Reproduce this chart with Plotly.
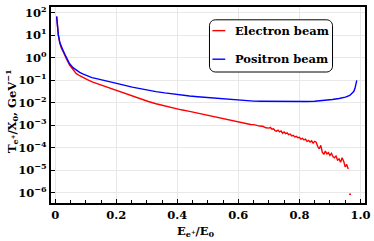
import math
import plotly.graph_objects as go

# ---------------- data ----------------
blue_x = [0.0045, 0.0065, 0.010, 0.015, 0.020, 0.026, 0.031, 0.037, 0.047, 0.058, 0.069, 0.080, 0.090,
          0.105, 0.120, 0.135, 0.150, 0.175, 0.198, 0.225, 0.252, 0.28, 0.305, 0.33, 0.359, 0.385, 0.413,
          0.44, 0.467, 0.50, 0.542, 0.57, 0.596, 0.62, 0.65, 0.675, 0.70, 0.73, 0.757, 0.78, 0.80,
          0.825, 0.85, 0.875, 0.908, 0.93, 0.951, 0.965, 0.972, 0.978, 0.982, 0.985, 0.988]
blue_y = [67.6, 24.5, 10.5, 4.57, 2.8, 2.0, 1.45, 1.0, 0.53, 0.36, 0.27, 0.22, 0.188,
          0.153, 0.13, 0.117, 0.106, 0.088, 0.076, 0.06, 0.049, 0.041, 0.035, 0.031, 0.027, 0.024, 0.0214,
          0.0196, 0.0182, 0.0168, 0.0151, 0.0139, 0.0129, 0.0123, 0.0117, 0.0115, 0.0114, 0.0112, 0.011, 0.011, 0.011,
          0.0112, 0.0116, 0.0122, 0.0138, 0.0152, 0.0175, 0.021, 0.025, 0.031, 0.042, 0.058, 0.098]

red_x = [0.0045, 0.0065, 0.010, 0.015, 0.020, 0.026, 0.031, 0.037, 0.047, 0.058, 0.069, 0.080, 0.090,
         0.105, 0.123, 0.144, 0.176, 0.198, 0.225, 0.252, 0.28, 0.305, 0.33, 0.359, 0.385, 0.413,
         0.44, 0.467, 0.488, 0.515, 0.542,
         0.55, 0.56, 0.57, 0.58, 0.59, 0.60, 0.61, 0.62, 0.63, 0.64, 0.65, 0.66, 0.67, 0.68, 0.69, 0.70,
         0.705, 0.71, 0.715, 0.72, 0.725, 0.73, 0.735, 0.74, 0.745, 0.75, 0.755, 0.76, 0.765, 0.77, 0.775,
         0.78, 0.785, 0.79, 0.795, 0.80, 0.805, 0.81, 0.815, 0.82, 0.825, 0.83, 0.835, 0.84, 0.845, 0.85,
         0.855, 0.86, 0.865, 0.87, 0.875, 0.88, 0.885, 0.89, 0.895, 0.90, 0.905, 0.91, 0.915, 0.92, 0.925,
         0.93, 0.935, 0.94, 0.945, 0.95, 0.955, 0.96,
         None, 0.963, 0.969]
red_y = [67.0, 24.0, 10.0, 4.4, 2.6, 1.85, 1.25, 0.85, 0.46, 0.29, 0.195, 0.157, 0.131,
         0.105, 0.081, 0.064, 0.045, 0.035, 0.026, 0.0195, 0.0145, 0.0112, 0.0089, 0.0071, 0.0058, 0.0048,
         0.0041, 0.0034, 0.0029, 0.0024, 0.0020,
         1.91e-3, 1.82e-3, 1.66e-3, 1.58e-3, 1.45e-3, 1.38e-3, 1.32e-3, 1.20e-3, 1.17e-3, 1.07e-3, 1.05e-3,
         9.5e-4, 9.1e-4, 8.9e-4, 7.6e-4, 7.4e-4,
         7.9e-4, 6.6e-4, 6.9e-4, 5.75e-4, 5.4e-4, 6.0e-4, 5.0e-4, 5.5e-4, 4.4e-4, 5.0e-4, 4.2e-4, 4.5e-4,
         3.8e-4, 4.0e-4, 3.3e-4,
         3.55e-4, 3.0e-4, 3.16e-4, 2.75e-4, 2.9e-4, 2.4e-4, 2.6e-4, 2.2e-4, 2.4e-4, 1.9e-4, 2.1e-4, 1.78e-4,
         2.0e-4, 1.58e-4, 1.9e-4,
         1.74e-4, 1.12e-4, 8.9e-5, 1.26e-4, 6.3e-5, 5.0e-5, 7.1e-5, 5.25e-5, 6.0e-5, 4.5e-5, 5.6e-5, 4.0e-5,
         3.55e-5, 4.2e-5, 2.8e-5,
         3.16e-5, 2.24e-5, 3.55e-5, 2.5e-5, 1.41e-5, 1.78e-5, 1.12e-5,
         None, 8.5e-7, 8.5e-7]

x_tickvals = [0, 0.2, 0.4, 0.6, 0.8, 1.0]
x_ticktext = ["0", "0.2", "0.4", "0.6", "0.8", "1.0"]
y_exponents = [2, 1, 0, -1, -2, -3, -4, -5, -6]
legend_names = ["Electron beam", "Positron beam"]
colors = ["#ff0000", "#0000ff"]

# ---------------- layout constants (pixels) ----------------
W, H = 374, 241
ML, MR, MT, MB = 51, 4, 4, 38
PW, PH = W - ML - MR, H - MT - MB
FONT = "DejaVu Serif"
FS = 11.5


def px(x):
    return (x - ML) / PW


def py(y):
    return (H - MB - y) / PH


fig = go.Figure()
fig.add_trace(go.Scatter(x=red_x, y=red_y, mode="lines", line=dict(color=colors[0], width=1.4),
                         connectgaps=False, showlegend=False))
fig.add_trace(go.Scatter(x=blue_x, y=blue_y, mode="lines", line=dict(color=colors[1], width=1.4),
                         showlegend=False))

y_tickvals = [10.0 ** e for e in y_exponents]
y_ticktext = ["<b>10<sup>%s</sup></b>" % (str(e).replace("-", "\u2212")) for e in y_exponents]

fig.update_xaxes(range=[-0.014, 1.015], tickvals=x_tickvals, ticktext=["<b>%s</b>" % t for t in x_ticktext],
                 ticks="inside", ticklen=4, tickwidth=1, tickcolor="black",
                 minor=dict(dtick=0.05, tick0=0, ticks="inside", ticklen=3, tickcolor="black", showgrid=False),
                 showgrid=True, gridcolor="#e8e8e8", gridwidth=1, zeroline=False,
                 showline=True, linecolor="black", linewidth=2, mirror=True,
                 tickfont=dict(family=FONT, size=FS, color="black"))
fig.update_yaxes(type="log", range=[-6.46, 2.25], tickvals=y_tickvals, ticktext=y_ticktext,
                 ticks="inside", ticklen=4, tickwidth=1, tickcolor="black",
                 showgrid=True, gridcolor="#e8e8e8", gridwidth=1, zeroline=False,
                 showline=True, linecolor="black", linewidth=2, mirror=True,
                 tickfont=dict(family=FONT, size=FS, color="black"))

# custom legend box with rounded corners (corners approximated by short segments)
bx0, bx1, by0, by1, r = 212, 337, 17, 70, 6
pts = []
corners = [(bx1 - r, by0 + r, -90), (bx1 - r, by1 - r, 0), (bx0 + r, by1 - r, 90), (bx0 + r, by0 + r, 180)]
for cx, cy, a0 in corners:
    for k in range(7):
        a = math.radians(a0 + 15 * k)
        pts.append((cx + r * math.cos(a), cy + r * math.sin(a)))
path = "M " + " L ".join("%.5f %.5f" % (px(x), py(y)) for x, y in pts) + " Z"
shapes = [dict(type="path", xref="paper", yref="paper", path=path, line=dict(color="black", width=1),
               fillcolor="white", layer="above")]
annotations = []
for i, (name, c) in enumerate(zip(legend_names, colors)):
    yy = 28 + 29 * i
    shapes.append(dict(type="line", xref="paper", yref="paper", x0=px(215), x1=px(228), y0=py(yy), y1=py(yy),
                       line=dict(color=c, width=1.4), layer="above"))
    annotations.append(dict(xref="paper", yref="paper", x=px(236), y=py(yy), text="<b>%s</b>" % name,
                            showarrow=False, xanchor="left", yanchor="middle",
                            font=dict(family=FONT, size=FS, color="black")))

annotations.append(dict(xref="paper", yref="paper", x=px(198), y=py(232),
                        text="<b>E<sub>e<sup>+</sup></sub>/E<sub>0</sub></b>", showarrow=False,
                        xanchor="center", yanchor="middle", font=dict(family=FONT, size=FS, color="black")))
annotations.append(dict(xref="paper", yref="paper", x=px(11), y=py(110), textangle=-90,
                        text="<b>T<sub>e<sup>+</sup></sub>/X<sub>0</sub>, GeV<sup>\u22121</sup></b>",
                        showarrow=False, xanchor="center", yanchor="middle",
                        font=dict(family=FONT, size=FS, color="black")))

fig.update_layout(width=W, height=H, margin=dict(l=ML, r=MR, t=MT, b=MB),
                  paper_bgcolor="white", plot_bgcolor="white", shapes=shapes, annotations=annotations,
                  showlegend=False)

fig.write_html("out.html", config={"displayModeBar": False},
               post_script="document.body.style.margin='0';document.body.style.overflow='hidden';")
